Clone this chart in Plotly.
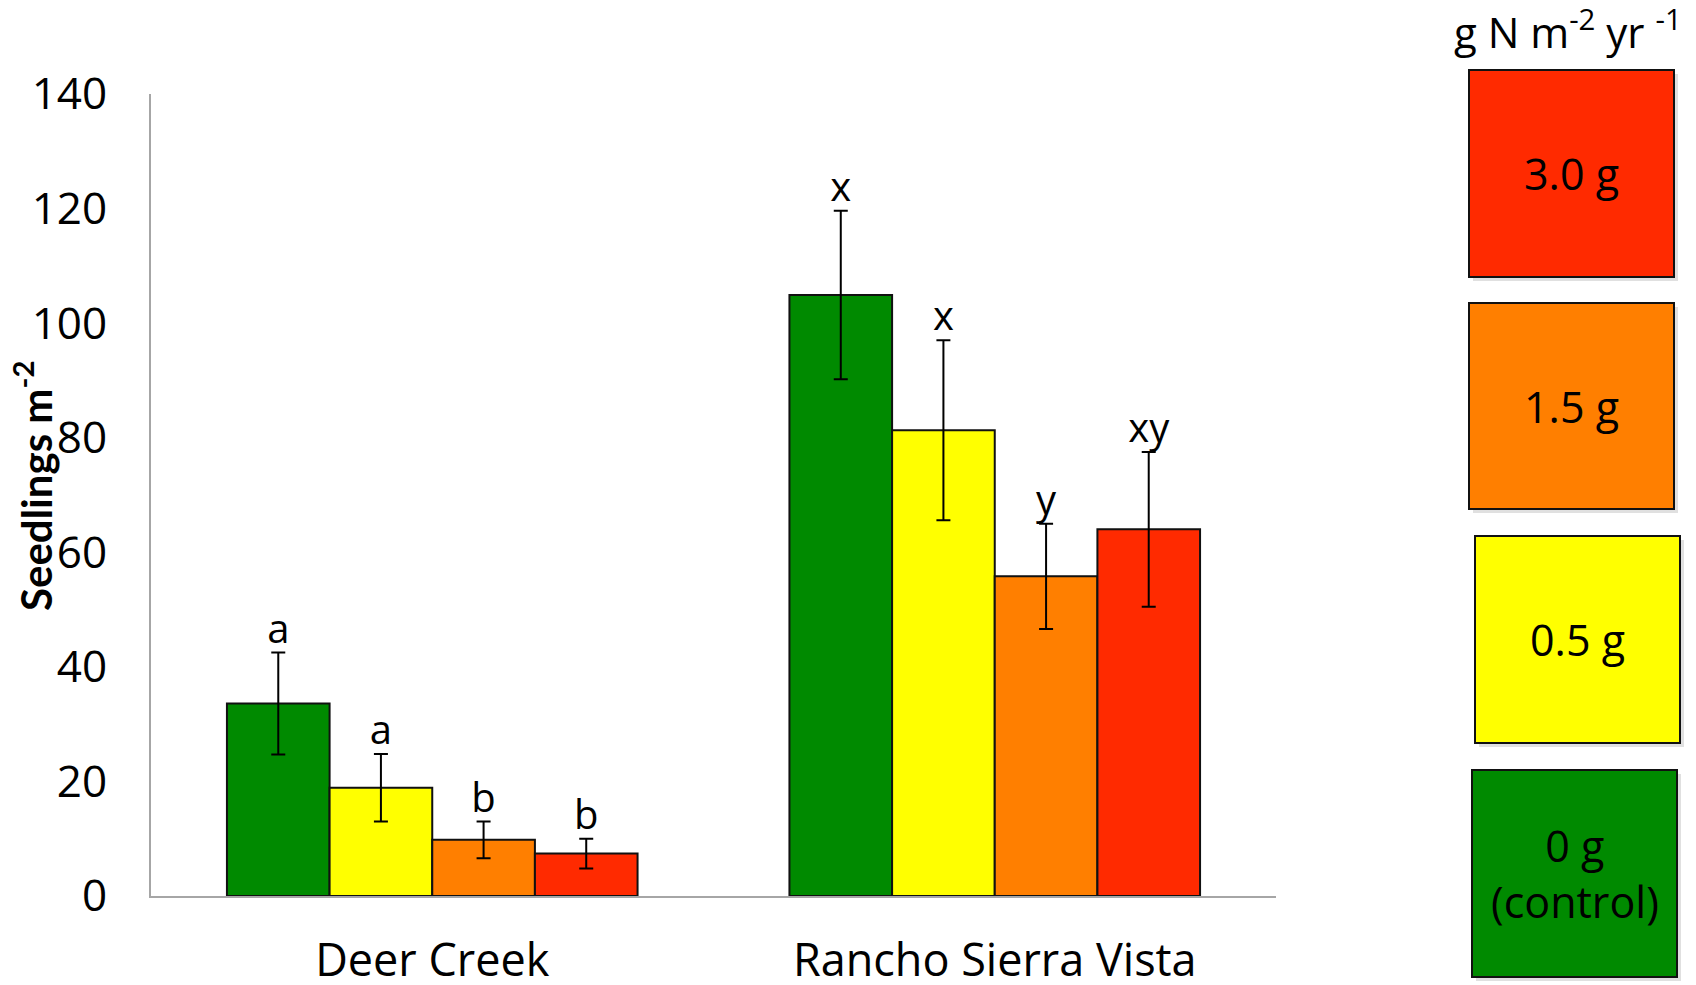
import plotly.graph_objects as go

# Sites along the x axis
sites = ["Deer Creek", "Rancho Sierra Vista"]

# N addition treatments (g N m-2 yr-1)
treatments = ["0 g", "0.5 g", "1.5 g", "3.0 g"]
legend_labels = ["0 g<br>(control)", "0.5 g", "1.5 g", "3.0 g"]
colors = ["#008A00", "#FFFF00", "#FF7F00", "#FF2A00"]

# Mean seedling density (seedlings m-2) per site
mean_0g = [33.6, 104.9]
mean_05g = [18.9, 81.3]
mean_15g = [9.8, 55.8]
mean_30g = [7.4, 64.0]

# Standard errors
se_0g = [8.9, 14.7]
se_05g = [5.9, 15.7]
se_15g = [3.2, 9.2]
se_30g = [2.6, 13.5]

# Significance letters
letters_0g = ["a", "x"]
letters_05g = ["a", "x"]
letters_15g = ["b", "y"]
letters_30g = ["b", "xy"]

y_ticks = [0, 20, 40, 60, 80, 100, 120, 140]

means = [mean_0g, mean_05g, mean_15g, mean_30g]
ses = [se_0g, se_05g, se_15g, se_30g]
letters = [letters_0g, letters_05g, letters_15g, letters_30g]

FONT = "Open Sans"

fig = go.Figure()
for i, t in enumerate(treatments):
    fig.add_trace(go.Bar(
        x=sites, y=means[i], name=t, offsetgroup=str(i),
        marker=dict(color=colors[i], line=dict(color="#111111", width=2)),
        error_y=dict(type="data", array=ses[i], color="#000000",
                     thickness=2, width=7),
        showlegend=False,
    ))
for i, t in enumerate(treatments):
    tops = [m + s for m, s in zip(means[i], ses[i])]
    fig.add_trace(go.Scatter(
        x=sites, y=tops, mode="text", text=letters[i], offsetgroup=str(i),
        textposition="top center", textfont=dict(family=FONT, size=40, color="#000"),
        showlegend=False, hoverinfo="skip",
    ))

# plot area in pixels
L, R, T, B = 151, 1276, 94, 896
W, H = 1696, 985


def px(xp):
    return (xp - L) / (R - L)


def py(yp):
    return (B - yp) / (B - T)


# Legend boxes: top to bottom 3.0, 1.5, 0.5, 0 g
boxes = [
    (3, 1469, 70, 1674, 277),
    (2, 1469, 303, 1674, 509),
    (1, 1475, 536, 1680, 743),
    (0, 1472, 770, 1677, 977),
]
shapes = []
annotations = []
for idx, x0, y0, x1, y1 in boxes:
    shapes.append(dict(type="rect", xref="paper", yref="paper",
                       x0=px(x0 + 4), x1=px(x1 + 4), y0=py(y1 + 4), y1=py(y0 + 4),
                       fillcolor="rgba(0,0,0,0.12)", line=dict(width=0), layer="below"))
    shapes.append(dict(type="rect", xref="paper", yref="paper",
                       x0=px(x0), x1=px(x1), y0=py(y1), y1=py(y0),
                       fillcolor=colors[idx], line=dict(color="#111111", width=2)))
    annotations.append(dict(xref="paper", yref="paper", x=px((x0 + x1) / 2),
                            y=py((y0 + y1) / 2), text=legend_labels[idx], showarrow=False,
                            font=dict(family=FONT, size=43, color="#000"),
                            xanchor="center", yanchor="middle"))

annotations.append(dict(xref="paper", yref="paper", x=px(1568), y=py(29),
                        text="g N m<sup>-2</sup> yr <sup>-1</sup>", showarrow=False,
                        font=dict(family=FONT, size=42, color="#000"),
                        xanchor="center", yanchor="middle"))
annotations.append(dict(xref="paper", yref="paper", x=px(33), y=py(486),
                        text="<b>Seedlings m<sup>-2</sup></b>", showarrow=False, textangle=-90,
                        font=dict(family="Lato", size=42, color="#000"),
                        xanchor="center", yanchor="middle"))

fig.update_layout(
    width=W, height=H,
    margin=dict(l=L, r=W - R, t=T, b=H - B),
    plot_bgcolor="white", paper_bgcolor="white",
    barmode="group", bargap=0.27, bargroupgap=0,
    scattermode="group", scattergap=0.27,
    shapes=shapes, annotations=annotations,
    xaxis=dict(showline=True, linecolor="#a6a6a6", linewidth=2, showgrid=False,
               ticks="", tickfont=dict(family=FONT, size=45, color="#000"),
               ticklabelstandoff=24, automargin=False),
    yaxis=dict(range=[0, 140], tickvals=y_ticks, showline=True, linecolor="#a6a6a6",
               linewidth=2, showgrid=False, zeroline=False, ticks="",
               tickfont=dict(family=FONT, size=44, color="#000"),
               ticklabelstandoff=33, automargin=False),
)

fig.write_html("out.html")
